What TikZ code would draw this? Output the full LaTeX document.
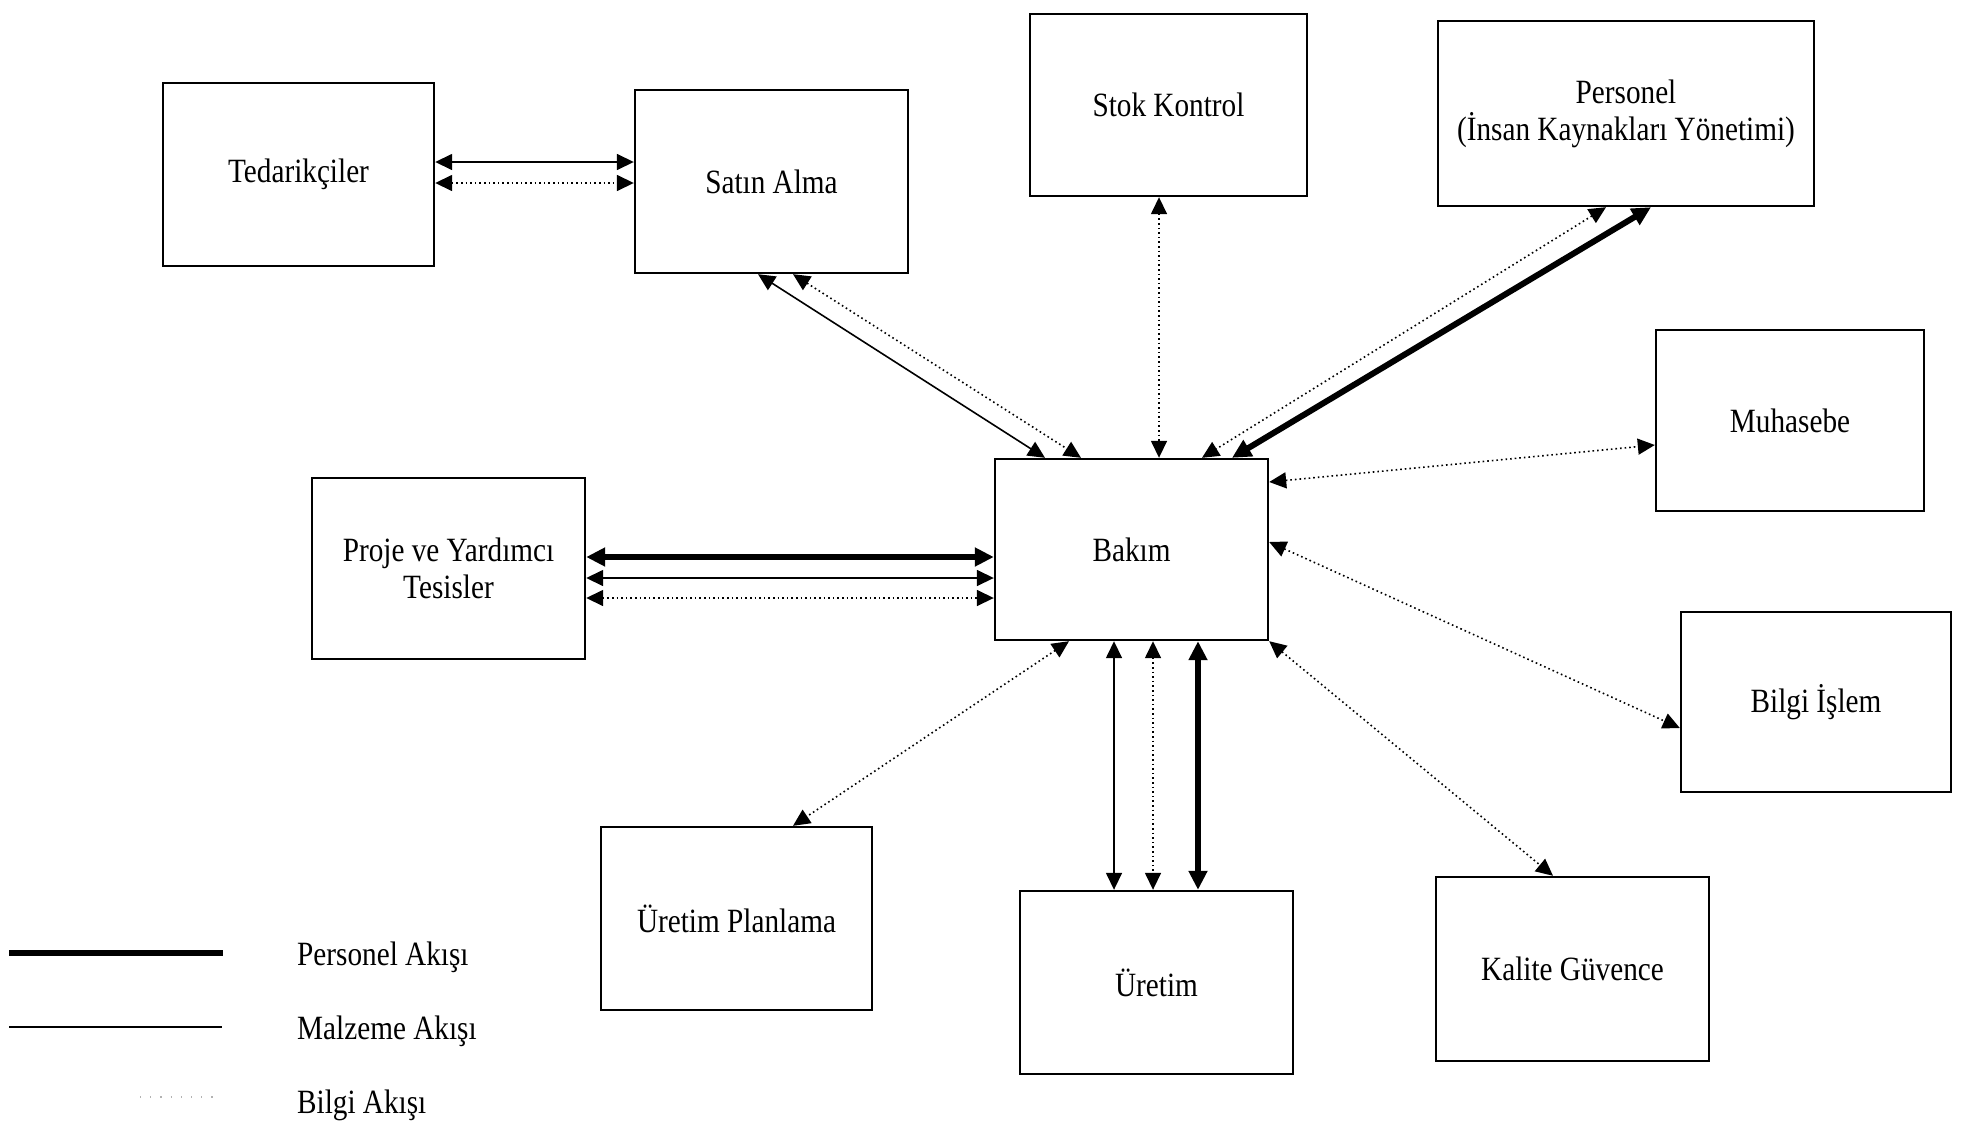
\documentclass[tikz,border=0pt]{standalone}
\usepackage{fontspec}
\setmainfont{Liberation Serif}[FakeStretch=0.86]
\usetikzlibrary{arrows.meta}

\begin{document}
\begin{tikzpicture}[x=1pt,y=-1pt,
  txt/.style={font=\fontsize{34}{37}\selectfont},
  box/.style={draw, line width=2.4pt, inner sep=0pt, align=center, txt},
  >={Triangle[length=17pt,width=16pt]},
  flow/.style={<->, shorten <=0pt, shorten >=0pt},
  personel/.style={flow, line width=6pt, >={Triangle[length=19pt,width=18pt]}},
  malzeme/.style={flow, line width=1.6pt},
  bilgi/.style={flow, line width=1.6pt, dash pattern=on 1.6pt off 3pt}
]
\useasboundingbox (0,0) rectangle (1967,1124);

% departments
\node[box, minimum width=271pt, minimum height=183pt] (ted)    at (298.5,174.5)  {Tedarikçiler};
\node[box, minimum width=273pt, minimum height=183pt] (satin)  at (771.5,181.5)  {Satın Alma};
\node[box, minimum width=277pt, minimum height=182pt] (stok)   at (1168.5,105)   {Stok Kontrol};
\node[box, minimum width=376pt, minimum height=185pt] (pers)   at (1626,113.5)   {Personel\\(İnsan Kaynakları Yönetimi)};
\node[box, minimum width=268pt, minimum height=181pt] (muh)    at (1790,420.5)   {Muhasebe};
\node[box, minimum width=273pt, minimum height=181pt] (proje)  at (448.5,568.5)  {Proje ve Yardımcı\\Tesisler};
\node[box, minimum width=273pt, minimum height=181pt] (bakim)  at (1131.5,549.5) {Bakım};
\node[box, minimum width=270pt, minimum height=180pt] (bilgi)  at (1816,702)     {Bilgi İşlem};
\node[box, minimum width=271pt, minimum height=183pt] (uplan)  at (736.5,918.5)  {Üretim Planlama};
\node[box, minimum width=273pt, minimum height=183pt] (uretim) at (1156.5,982.5) {Üretim};
\node[box, minimum width=273pt, minimum height=184pt] (kalite) at (1572.5,969)   {Kalite Güvence};

% Tedarikçiler -- Satın Alma
\draw[malzeme] (ted.east |- 0,162) -- (satin.west |- 0,162);
\draw[bilgi]   (ted.east |- 0,183) -- (satin.west |- 0,183);

% Satın Alma -- Bakım
\draw[malzeme] (satin.south -| 758,0) -- (bakim.north -| 1045,0);
\draw[bilgi]   (satin.south -| 793,0) -- (bakim.north -| 1081,0);

% Stok Kontrol -- Bakım
\draw[bilgi] (stok.south -| 1159,0) -- (bakim.north -| 1159,0);

% Personel -- Bakım
\draw[bilgi]    (pers.south -| 1606,0) -- (bakim.north -| 1202,0);
\draw[personel] (pers.south -| 1651,0) -- (bakim.north -| 1232,0);

% Bakım -- Muhasebe, Bilgi İşlem, Kalite Güvence
\draw[bilgi] (bakim.east |- 0,482) -- (muh.west |- 0,445);
\draw[bilgi] (bakim.east |- 0,542) -- (bilgi.west |- 0,728);
\draw[bilgi] (bakim.south east) -- (kalite.north -| 1553,0);

% Proje ve Yardımcı Tesisler -- Bakım
\draw[personel] (proje.east |- 0,557) -- (bakim.west |- 0,557);
\draw[malzeme]  (proje.east |- 0,578) -- (bakim.west |- 0,578);
\draw[bilgi]    (proje.east |- 0,598) -- (bakim.west |- 0,598);

% Bakım -- Üretim Planlama
\draw[bilgi] (bakim.south -| 1069,0) -- (uplan.north -| 793,0);

% Bakım -- Üretim
\draw[malzeme]  (bakim.south -| 1114,0) -- (uretim.north -| 1114,0);
\draw[bilgi]    (bakim.south -| 1153,0) -- (uretim.north -| 1153,0);
\draw[personel] (bakim.south -| 1198,0) -- (uretim.north -| 1198,0);

% legend
\coordinate (lp1) at (9,953);   \coordinate (lp2) at (223,953);
\coordinate (lm1) at (9,1027);  \coordinate (lm2) at (222,1027);
\coordinate (lb1) at (140,1097); \coordinate (lb2) at (215,1097);
\draw[line width=6pt] (lp1) -- (lp2);
\draw[line width=1.6pt] (lm1) -- (lm2);
\draw[line width=1.2pt, gray!60, dash pattern=on 1.2pt off 9pt] (lb1) -- (lb2);
\node[txt, anchor=west, inner sep=0pt] (lpt) at (297,957)  {Personel Akışı};
\node[txt, anchor=west, inner sep=0pt] (lmt) at (297,1031) {Malzeme Akışı};
\node[txt, anchor=west, inner sep=0pt] (lbt) at (297,1105) {Bilgi Akışı};
\end{tikzpicture}
\end{document}
